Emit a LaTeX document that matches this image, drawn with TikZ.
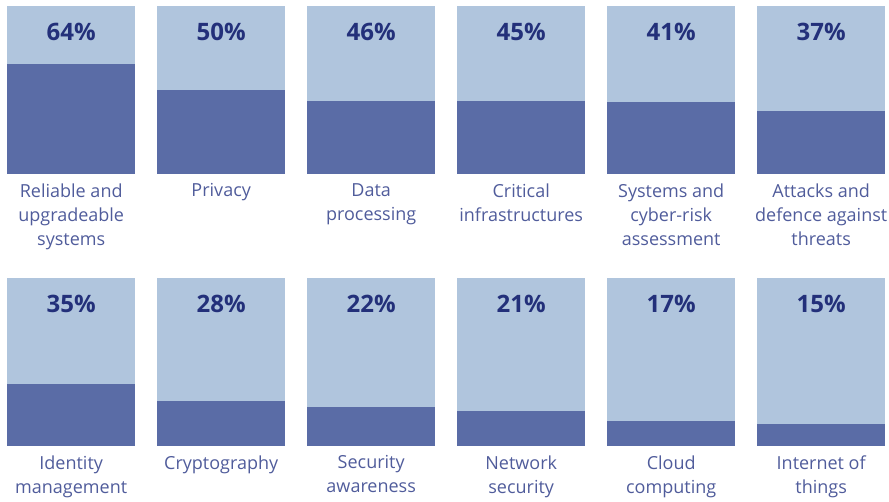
\documentclass[tikz,border=0pt]{standalone}
\usepackage{fontspec}
\setmainfont{Open Sans}
\definecolor{lightbar}{RGB}{176,197,221}
\definecolor{darkbar}{RGB}{90,108,166}
\definecolor{pctcol}{RGB}{35,48,122}
\definecolor{labcol}{RGB}{80,92,155}
\tikzset{
  lightbox/.style={fill=lightbar,draw=none,inner sep=0pt,anchor=north west},
  darkbox/.style={fill=darkbar,draw=none,inner sep=0pt,anchor=south west},
  pct/.style={text=pctcol,font=\fontsize{24}{28}\selectfont\bfseries,inner sep=0pt},
  lab/.style={text=labcol,font=\fontsize{18}{24}\selectfont,align=center,inner sep=0pt,anchor=north}
}
\begin{document}
\begin{tikzpicture}[x=1pt,y=-1pt]
\useasboundingbox (0,0) rectangle (889,501);
\foreach \i/\row/\dtop/\p/\lab in {
 0/0/64/64/{Reliable and\\upgradeable\\systems},
 1/0/90/50/{Privacy},
 2/0/101/46/{Data\\processing},
 3/0/101/45/{Critical\\infrastructures},
 4/0/102/41/{Systems and\\cyber-risk\\assessment},
 5/0/111/37/{Attacks and\\defence against\\threats},
 0/1/384/35/{Identity\\management},
 1/1/401/28/{Cryptography},
 2/1/407/22/{Security\\awareness},
 3/1/411/21/{Network\\security},
 4/1/421/17/{Cloud\\computing},
 5/1/424/15/{Internet of\\things}}{
  \pgfmathsetmacro{\xl}{7+150*\i}
  \pgfmathsetmacro{\yt}{6+272*\row}
  \pgfmathsetmacro{\yb}{\yt+168}
  \pgfmathsetmacro{\dh}{\yb-\dtop}
  \node[lightbox,minimum width=128pt,minimum height=168pt] (bg\i\row) at (\xl,\yt) {};
  \node[darkbox,minimum width=128pt,minimum height=\dh pt] (fg\i\row) at (\xl,\yb) {};
  \node[pct] (p\i\row) at ([yshift=-26pt]bg\i\row.north) {\p\%};
  \node[lab] (l\i\row) at ([yshift=-9pt]bg\i\row.south) {\lab};
}
\end{tikzpicture}
\end{document}
